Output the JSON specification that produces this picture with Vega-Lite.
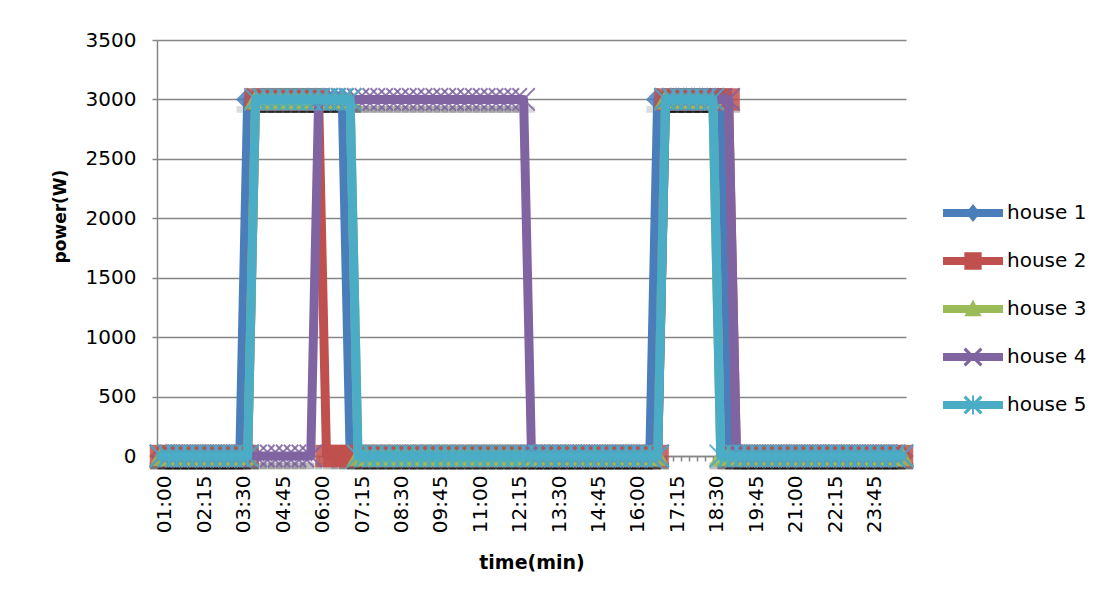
{
  "$schema": "https://vega.github.io/schema/vega-lite/v6.json",
  "width": 749,
  "height": 416,
  "padding": {"left": 51, "top": 30, "right": 5, "bottom": 5},
  "background": "white",
  "config": {"view": {"stroke": null}, "font": "DejaVu Sans"},
  "data": {"values": [
    {"t":"01:00","house 1":0,"house 2":0,"house 3":0,"house 4":0,"house 5":0},
    {"t":"01:15","house 1":0,"house 2":0,"house 3":0,"house 4":0,"house 5":0},
    {"t":"01:30","house 1":0,"house 2":0,"house 3":0,"house 4":0,"house 5":0},
    {"t":"01:45","house 1":0,"house 2":0,"house 3":0,"house 4":0,"house 5":0},
    {"t":"02:00","house 1":0,"house 2":0,"house 3":0,"house 4":0,"house 5":0},
    {"t":"02:15","house 1":0,"house 2":0,"house 3":0,"house 4":0,"house 5":0},
    {"t":"02:30","house 1":0,"house 2":0,"house 3":0,"house 4":0,"house 5":0},
    {"t":"02:45","house 1":0,"house 2":0,"house 3":0,"house 4":0,"house 5":0},
    {"t":"03:00","house 1":0,"house 2":0,"house 3":0,"house 4":0,"house 5":0},
    {"t":"03:15","house 1":0,"house 2":0,"house 3":0,"house 4":0,"house 5":0},
    {"t":"03:30","house 1":0,"house 2":0,"house 3":0,"house 4":0,"house 5":0},
    {"t":"03:45","house 1":3000,"house 2":0,"house 3":0,"house 4":0,"house 5":0},
    {"t":"04:00","house 1":3000,"house 2":3000,"house 3":3000,"house 4":0,"house 5":3000},
    {"t":"04:15","house 1":3000,"house 2":3000,"house 3":3000,"house 4":0,"house 5":3000},
    {"t":"04:30","house 1":3000,"house 2":3000,"house 3":3000,"house 4":0,"house 5":3000},
    {"t":"04:45","house 1":3000,"house 2":3000,"house 3":3000,"house 4":0,"house 5":3000},
    {"t":"05:00","house 1":3000,"house 2":3000,"house 3":3000,"house 4":0,"house 5":3000},
    {"t":"05:15","house 1":3000,"house 2":3000,"house 3":3000,"house 4":0,"house 5":3000},
    {"t":"05:30","house 1":3000,"house 2":3000,"house 3":3000,"house 4":0,"house 5":3000},
    {"t":"05:45","house 1":3000,"house 2":3000,"house 3":3000,"house 4":0,"house 5":3000},
    {"t":"06:00","house 1":3000,"house 2":3000,"house 3":3000,"house 4":3000,"house 5":3000},
    {"t":"06:15","house 1":3000,"house 2":0,"house 3":3000,"house 4":3000,"house 5":3000},
    {"t":"06:30","house 1":3000,"house 2":0,"house 3":3000,"house 4":3000,"house 5":3000},
    {"t":"06:45","house 1":3000,"house 2":0,"house 3":3000,"house 4":3000,"house 5":3000},
    {"t":"07:00","house 1":0,"house 2":0,"house 3":3000,"house 4":3000,"house 5":3000},
    {"t":"07:15","house 1":0,"house 2":0,"house 3":0,"house 4":3000,"house 5":0},
    {"t":"07:30","house 1":0,"house 2":0,"house 3":0,"house 4":3000,"house 5":0},
    {"t":"07:45","house 1":0,"house 2":0,"house 3":0,"house 4":3000,"house 5":0},
    {"t":"08:00","house 1":0,"house 2":0,"house 3":0,"house 4":3000,"house 5":0},
    {"t":"08:15","house 1":0,"house 2":0,"house 3":0,"house 4":3000,"house 5":0},
    {"t":"08:30","house 1":0,"house 2":0,"house 3":0,"house 4":3000,"house 5":0},
    {"t":"08:45","house 1":0,"house 2":0,"house 3":0,"house 4":3000,"house 5":0},
    {"t":"09:00","house 1":0,"house 2":0,"house 3":0,"house 4":3000,"house 5":0},
    {"t":"09:15","house 1":0,"house 2":0,"house 3":0,"house 4":3000,"house 5":0},
    {"t":"09:30","house 1":0,"house 2":0,"house 3":0,"house 4":3000,"house 5":0},
    {"t":"09:45","house 1":0,"house 2":0,"house 3":0,"house 4":3000,"house 5":0},
    {"t":"10:00","house 1":0,"house 2":0,"house 3":0,"house 4":3000,"house 5":0},
    {"t":"10:15","house 1":0,"house 2":0,"house 3":0,"house 4":3000,"house 5":0},
    {"t":"10:30","house 1":0,"house 2":0,"house 3":0,"house 4":3000,"house 5":0},
    {"t":"10:45","house 1":0,"house 2":0,"house 3":0,"house 4":3000,"house 5":0},
    {"t":"11:00","house 1":0,"house 2":0,"house 3":0,"house 4":3000,"house 5":0},
    {"t":"11:15","house 1":0,"house 2":0,"house 3":0,"house 4":3000,"house 5":0},
    {"t":"11:30","house 1":0,"house 2":0,"house 3":0,"house 4":3000,"house 5":0},
    {"t":"11:45","house 1":0,"house 2":0,"house 3":0,"house 4":3000,"house 5":0},
    {"t":"12:00","house 1":0,"house 2":0,"house 3":0,"house 4":3000,"house 5":0},
    {"t":"12:15","house 1":0,"house 2":0,"house 3":0,"house 4":3000,"house 5":0},
    {"t":"12:30","house 1":0,"house 2":0,"house 3":0,"house 4":3000,"house 5":0},
    {"t":"12:45","house 1":0,"house 2":0,"house 3":0,"house 4":0,"house 5":0},
    {"t":"13:00","house 1":0,"house 2":0,"house 3":0,"house 4":0,"house 5":0},
    {"t":"13:15","house 1":0,"house 2":0,"house 3":0,"house 4":0,"house 5":0},
    {"t":"13:30","house 1":0,"house 2":0,"house 3":0,"house 4":0,"house 5":0},
    {"t":"13:45","house 1":0,"house 2":0,"house 3":0,"house 4":0,"house 5":0},
    {"t":"14:00","house 1":0,"house 2":0,"house 3":0,"house 4":0,"house 5":0},
    {"t":"14:15","house 1":0,"house 2":0,"house 3":0,"house 4":0,"house 5":0},
    {"t":"14:30","house 1":0,"house 2":0,"house 3":0,"house 4":0,"house 5":0},
    {"t":"14:45","house 1":0,"house 2":0,"house 3":0,"house 4":0,"house 5":0},
    {"t":"15:00","house 1":0,"house 2":0,"house 3":0,"house 4":0,"house 5":0},
    {"t":"15:15","house 1":0,"house 2":0,"house 3":0,"house 4":0,"house 5":0},
    {"t":"15:30","house 1":0,"house 2":0,"house 3":0,"house 4":0,"house 5":0},
    {"t":"15:45","house 1":0,"house 2":0,"house 3":0,"house 4":0,"house 5":0},
    {"t":"16:00","house 1":0,"house 2":0,"house 3":0,"house 4":0,"house 5":0},
    {"t":"16:15","house 1":0,"house 2":0,"house 3":0,"house 4":0,"house 5":0},
    {"t":"16:30","house 1":0,"house 2":0,"house 3":0,"house 4":0,"house 5":0},
    {"t":"16:45","house 1":3000,"house 2":0,"house 3":0,"house 4":0,"house 5":0},
    {"t":"17:00","house 1":3000,"house 2":3000,"house 3":3000,"house 4":3000,"house 5":3000},
    {"t":"17:15","house 1":3000,"house 2":3000,"house 3":3000,"house 4":3000,"house 5":3000},
    {"t":"17:30","house 1":3000,"house 2":3000,"house 3":3000,"house 4":3000,"house 5":3000},
    {"t":"17:45","house 1":3000,"house 2":3000,"house 3":3000,"house 4":3000,"house 5":3000},
    {"t":"18:00","house 1":3000,"house 2":3000,"house 3":3000,"house 4":3000,"house 5":3000},
    {"t":"18:15","house 1":3000,"house 2":3000,"house 3":3000,"house 4":3000,"house 5":3000},
    {"t":"18:30","house 1":3000,"house 2":3000,"house 3":3000,"house 4":3000,"house 5":3000},
    {"t":"18:45","house 1":3000,"house 2":3000,"house 3":0,"house 4":3000,"house 5":0},
    {"t":"19:00","house 1":0,"house 2":3000,"house 3":0,"house 4":3000,"house 5":0},
    {"t":"19:15","house 1":0,"house 2":0,"house 3":0,"house 4":0,"house 5":0},
    {"t":"19:30","house 1":0,"house 2":0,"house 3":0,"house 4":0,"house 5":0},
    {"t":"19:45","house 1":0,"house 2":0,"house 3":0,"house 4":0,"house 5":0},
    {"t":"20:00","house 1":0,"house 2":0,"house 3":0,"house 4":0,"house 5":0},
    {"t":"20:15","house 1":0,"house 2":0,"house 3":0,"house 4":0,"house 5":0},
    {"t":"20:30","house 1":0,"house 2":0,"house 3":0,"house 4":0,"house 5":0},
    {"t":"20:45","house 1":0,"house 2":0,"house 3":0,"house 4":0,"house 5":0},
    {"t":"21:00","house 1":0,"house 2":0,"house 3":0,"house 4":0,"house 5":0},
    {"t":"21:15","house 1":0,"house 2":0,"house 3":0,"house 4":0,"house 5":0},
    {"t":"21:30","house 1":0,"house 2":0,"house 3":0,"house 4":0,"house 5":0},
    {"t":"21:45","house 1":0,"house 2":0,"house 3":0,"house 4":0,"house 5":0},
    {"t":"22:00","house 1":0,"house 2":0,"house 3":0,"house 4":0,"house 5":0},
    {"t":"22:15","house 1":0,"house 2":0,"house 3":0,"house 4":0,"house 5":0},
    {"t":"22:30","house 1":0,"house 2":0,"house 3":0,"house 4":0,"house 5":0},
    {"t":"22:45","house 1":0,"house 2":0,"house 3":0,"house 4":0,"house 5":0},
    {"t":"23:00","house 1":0,"house 2":0,"house 3":0,"house 4":0,"house 5":0},
    {"t":"23:15","house 1":0,"house 2":0,"house 3":0,"house 4":0,"house 5":0},
    {"t":"23:45","house 1":0,"house 2":0,"house 3":0,"house 4":0,"house 5":0},
    {"t":"00:00","house 1":0,"house 2":0,"house 3":0,"house 4":0,"house 5":0},
    {"t":"00:15","house 1":0,"house 2":0,"house 3":0,"house 4":0,"house 5":0},
    {"t":"00:30","house 1":0,"house 2":0,"house 3":0,"house 4":0,"house 5":0},
    {"t":"00:45","house 1":0,"house 2":0,"house 3":0,"house 4":0,"house 5":0}
  ]},
  "transform": [{"fold": ["house 1","house 2","house 3","house 4","house 5"], "as": ["house","power"]}],
  "encoding": {
    "x": {
      "field": "t", "type": "ordinal", "sort": null,
      "scale": {"type": "point", "padding": 0.5},
      "axis": {
        "title": "time(min)", "labelAngle": 270, "labelOverlap": false,
        "labelExpr": "indexof(['01:00','02:15','03:30','04:45','06:00','07:15','08:30','09:45','11:00','12:15','13:30','14:45','16:00','17:15','18:30','19:45','21:00','22:15','23:45'], datum.label) >= 0 ? datum.label : ''",
        "grid": false, "tickSize": 5, "labelPadding": 14, "labelOffset": 4,
        "domainColor": "#868686", "domainWidth": 1.5, "tickColor": "#868686", "tickWidth": 1.5,
        "labelFont": "DejaVu Sans", "labelFontSize": 20, "labelColor": "#000000",
        "titleFont": "DejaVu Sans", "titleFontSize": 19, "titleFontWeight": "bold", "titleColor": "#000000", "titlePadding": 21
      }
    },
    "y": {
      "field": "power", "type": "quantitative",
      "scale": {"domain": [0, 3500], "nice": false},
      "axis": {
        "title": "power(W)", "values": [0,500,1000,1500,2000,2500,3000,3500], "format": "d",
        "grid": true, "gridColor": "#868686", "gridWidth": 1.5,
        "domainColor": "#868686", "domainWidth": 1.5, "tickColor": "#868686", "tickWidth": 1.5, "tickSize": 5,
        "labelPadding": 16, "labelFont": "DejaVu Sans", "labelFontSize": 20, "labelColor": "#000000",
        "titleFont": "DejaVu Sans", "titleFontSize": 17, "titleFontWeight": "bold", "titleColor": "#000000", "titlePadding": 16, "titleY": 176
      }
    }
  },
  "layer": [
    {"mark": {"type": "point", "shape": "M-1,-0.3H1V0.3H-1Z", "size": 500, "filled": true, "color": "#000000", "opacity": 0.14, "yOffset": 10}},
    {"transform": [{"filter": "datum.house == 'house 1'"}], "layer": [
      {"mark": {"type": "line", "color": "#4A7EBB", "strokeWidth": 9, "strokeCap": "round", "strokeJoin": "round"}},
      {"mark": {"type": "point", "shape": "diamond", "size": 550, "filled": true, "color": "#4A7EBB", "opacity": 0.85}}
    ]},
    {"transform": [{"filter": "datum.house == 'house 2'"}], "layer": [
      {"mark": {"type": "line", "color": "#C0504D", "strokeWidth": 9, "strokeCap": "round", "strokeJoin": "round"}},
      {"mark": {"type": "point", "shape": "square", "size": 500, "filled": true, "color": "#C0504D", "opacity": 0.85}}
    ]},
    {"transform": [{"filter": "datum.house == 'house 3'"}], "layer": [
      {"mark": {"type": "line", "color": "#9BBB59", "strokeWidth": 9, "strokeCap": "round", "strokeJoin": "round"}},
      {"mark": {"type": "point", "shape": "triangle-up", "size": 550, "filled": true, "color": "#9BBB59", "opacity": 0.85}}
    ]},
    {"transform": [{"filter": "datum.house == 'house 4'"}], "layer": [
      {"mark": {"type": "line", "color": "#8064A2", "strokeWidth": 9, "strokeCap": "round", "strokeJoin": "round"}},
      {"mark": {"type": "point", "shape": "M-1,-1L1,1M-1,1L1,-1", "size": 500, "filled": false, "color": "#8064A2", "strokeWidth": 2, "opacity": 0.85}}
    ]},
    {"transform": [{"filter": "datum.house == 'house 5'"}], "layer": [
      {"mark": {"type": "line", "color": "#4BACC6", "strokeWidth": 9, "strokeCap": "round", "strokeJoin": "round"}},
      {"mark": {"type": "point", "shape": "M-1,-1L1,1M-1,1L1,-1M0,-1L0,1", "size": 500, "filled": false, "color": "#4BACC6", "strokeWidth": 2, "opacity": 0.85}}
    ]},
    {
      "mark": {"type": "point", "filled": true, "opacity": 0},
      "encoding": {
        "color": {
          "field": "house", "type": "nominal",
          "scale": {"domain": ["house 1","house 2","house 3","house 4","house 5"], "range": ["#4A7EBB","#C0504D","#9BBB59","#8064A2","#4BACC6"]},
          "legend": {"title": null, "orient": "none", "legendX": 792, "legendY": 149, "symbolSize": 2304, "symbolOpacity": 1, "symbolStrokeWidth": 0, "labelFont": "DejaVu Sans", "labelFontSize": 20, "labelColor": "#000000", "labelOffset": 10, "rowPadding": 14, "padding": 0, "labelLimit": 200}
        },
        "shape": {
          "field": "house", "type": "nominal",
          "scale": {"domain": ["house 1","house 2","house 3","house 4","house 5"], "range": [
            "M-1.25,-0.17H1.25V0.17H-1.25Z M0,-0.38L0.3,0L0,0.38L-0.3,0Z",
            "M-1.25,-0.17H1.25V0.17H-1.25Z M-0.36,-0.36H0.36V0.36H-0.36Z",
            "M-1.25,-0.17H1.25V0.17H-1.25Z M0,-0.4L0.36,0.3H-0.36Z",
            "M-1.25,-0.17H1.25V0.17H-1.25Z M-0.305,-0.395L0.395,0.305L0.305,0.395L-0.395,-0.305Z M-0.395,0.305L0.305,-0.395L0.395,-0.305L-0.305,0.395Z",
            "M-1.25,-0.17H1.25V0.17H-1.25Z M-0.305,-0.395L0.395,0.305L0.305,0.395L-0.395,-0.305Z M-0.395,0.305L0.305,-0.395L0.395,-0.305L-0.305,0.395Z M-0.04,-0.4H0.04V0.4H-0.04Z"
          ]},
          "legend": {"title": null, "orient": "none", "legendX": 792, "legendY": 149, "symbolSize": 2304, "symbolOpacity": 1, "symbolStrokeWidth": 0, "labelFont": "DejaVu Sans", "labelFontSize": 20, "labelColor": "#000000", "labelOffset": 10, "rowPadding": 14, "padding": 0, "labelLimit": 200}
        }
      }
    }
  ]
}
